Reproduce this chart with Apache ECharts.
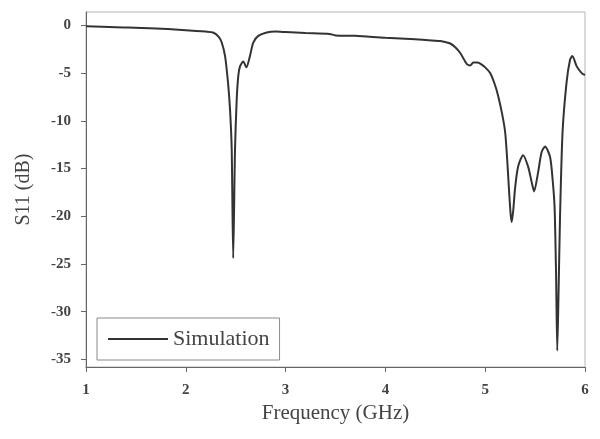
<!DOCTYPE html>
<html>
<head>
<meta charset="utf-8">
<script src="https://cdn.jsdelivr.net/npm/echarts@6/dist/echarts.min.js"></script>
<style>html,body{margin:0;padding:0;background:#fff}#c{width:600px;height:439px}</style>
</head>
<body>
<div id="c"></div>
<script>
const freq = [1.0, 1.3, 1.64, 2.0, 2.2, 2.273, 2.33, 2.36, 2.393, 2.423, 2.443, 2.46, 2.475, 2.493, 2.51, 2.526, 2.543, 2.576, 2.607, 2.643, 2.676, 2.726, 2.81, 2.9, 3.0, 3.2, 3.44, 3.5, 3.7, 4.0, 4.3, 4.5, 4.55, 4.6, 4.65, 4.7, 4.75, 4.8, 4.82, 4.85, 4.88, 4.92, 4.95, 5.0, 5.05, 5.1, 5.13, 5.17, 5.2, 5.22, 5.24, 5.255, 5.266, 5.28, 5.3, 5.33, 5.38, 5.43, 5.465, 5.49, 5.53, 5.565, 5.6, 5.65, 5.675, 5.695, 5.71, 5.722, 5.735, 5.75, 5.775, 5.815, 5.85, 5.873, 5.917, 5.967, 6.0];
const s11 = [-0.1, -0.2, -0.3, -0.5, -0.65, -0.75, -1.2, -1.8, -3.2, -6.0, -8.8, -13.0, -24.4, -13.0, -7.8, -5.3, -4.3, -3.8, -4.4, -3.2, -1.8, -1.1, -0.75, -0.65, -0.7, -0.8, -0.9, -1.05, -1.1, -1.3, -1.45, -1.6, -1.65, -1.75, -1.9, -2.3, -2.9, -3.8, -4.1, -4.2, -3.9, -3.9, -4.0, -4.4, -5.0, -6.3, -7.4, -9.3, -11.2, -14.0, -17.5, -19.8, -20.6, -19.5, -17.0, -14.8, -13.6, -14.8, -16.4, -17.4, -15.4, -13.3, -12.7, -13.8, -16.1, -19.0, -26.0, -34.1, -28.0, -20.0, -11.2, -6.0, -3.6, -3.2, -4.3, -5.0, -5.2];
const yTicks = [0, -5, -10, -15, -20, -25, -30, -35];
const xTicks = [1, 2, 3, 4, 5, 6];

const serif = 'Liberation Serif';
const chart = echarts.init(document.getElementById('c'), null, {renderer: 'canvas'});
chart.setOption({
  animation: false,
  backgroundColor: '#fff',
  grid: {left: 86, right: 15, top: 12, bottom: 72, show: true, borderColor: '#b5b5b5', borderWidth: 1, backgroundColor: 'transparent'},
  legend: {
    left: 97, top: 318,
    orient: 'horizontal',
    borderColor: '#8a8a8a', borderWidth: 1,
    padding: [10, 10, 10, 10],
    itemWidth: 60, itemHeight: 16, itemGap: 10,
    itemStyle: {opacity: 0},
    textStyle: {fontFamily: serif, fontSize: 22, color: '#444'},
    data: ['Simulation']
  },
  xAxis: {
    type: 'value', min: 1, max: 6, interval: 1,
    name: 'Frequency (GHz)', nameLocation: 'middle', nameGap: 35,
    nameTextStyle: {fontFamily: serif, fontSize: 21, color: '#444'},
    axisLine: {show: true, onZero: false, lineStyle: {color: '#666', width: 1}},
    axisTick: {show: true, inside: false, length: 5, lineStyle: {color: '#666'}, customValues: xTicks},
    axisLabel: {fontFamily: serif, fontSize: 15, fontWeight: 'bold', color: '#444', margin: 16, customValues: xTicks},
    splitLine: {show: false}
  },
  yAxis: {
    type: 'value', min: -35.8, max: 1.4,
    name: 'S11 (dB)', nameLocation: 'middle', nameGap: 52, nameRotate: 90,
    nameTextStyle: {fontFamily: serif, fontSize: 20, color: '#444'},
    axisLine: {show: true, onZero: false, lineStyle: {color: '#666', width: 1}},
    axisTick: {show: true, inside: false, length: 5, lineStyle: {color: '#666'}, customValues: yTicks},
    axisLabel: {fontFamily: serif, fontSize: 15, fontWeight: 'bold', color: '#444', margin: 15, customValues: yTicks},
    splitLine: {show: false}
  },
  series: [{
    name: 'Simulation',
    type: 'line',
    symbol: 'none',
    smooth: 0.25,
    data: freq.map((f, i) => [f, s11[i]]),
    lineStyle: {color: '#333', width: 2},
    itemStyle: {color: '#333'}
  }]
});
</script>
</body>
</html>
